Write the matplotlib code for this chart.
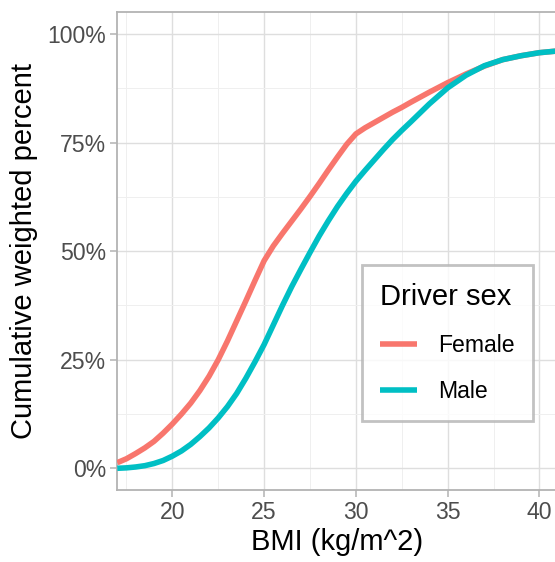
import matplotlib
matplotlib.use("Agg")
import matplotlib.pyplot as plt
from matplotlib.ticker import FuncFormatter, MultipleLocator

plt.rcParams['font.family'] = ['Liberation Sans', 'DejaVu Sans']

bmi = [17, 17.5, 18, 18.5, 19, 19.5, 20, 20.5, 21, 21.5, 22, 22.5, 23, 23.5, 24, 24.5,
       25, 25.5, 26, 26.5, 27, 27.5, 28, 28.5, 29, 29.5, 30, 30.5, 31, 31.5, 32, 32.5,
       33, 34, 35, 36, 37, 38, 39, 40, 41]
female = [0.013, 0.022, 0.034, 0.047, 0.062, 0.081, 0.102, 0.125, 0.15, 0.179, 0.212, 0.25,
          0.293, 0.339, 0.385, 0.432, 0.478, 0.512, 0.541, 0.569, 0.597, 0.626, 0.656, 0.687,
          0.717, 0.746, 0.77, 0.784, 0.796, 0.808, 0.82, 0.831, 0.843, 0.866, 0.888,
          0.908, 0.926, 0.941, 0.95, 0.957, 0.961]
male = [0.0, 0.001, 0.003, 0.006, 0.011, 0.018, 0.028, 0.04, 0.055, 0.073, 0.093, 0.116,
        0.142, 0.172, 0.207, 0.245, 0.285, 0.33, 0.375, 0.418, 0.458, 0.497, 0.535, 0.57,
        0.603, 0.633, 0.661, 0.686, 0.71, 0.734, 0.757, 0.778, 0.798, 0.839, 0.876, 0.905,
        0.927, 0.941, 0.95, 0.957, 0.961]
series_names = ["Female", "Male"]
series_colors = ["#F8766D", "#00BFC4"]
x_ticks = [20, 25, 30, 35, 40]
y_ticks = [0, 0.25, 0.5, 0.75, 1.0]

fig = plt.figure(figsize=(5.55, 5.62), dpi=100)
ax_left = 117.3 / 555
ax_w = 1.005 - ax_left
ax = fig.add_axes([ax_left, (562 - 490) / 562, ax_w, (490 - 12.3) / 562])

for vals, name, col in zip([female, male], series_names, series_colors):
    ax.plot(bmi, vals, color=col, lw=4.0, label=name, solid_capstyle='butt',
            solid_joinstyle='round', zorder=3)

ax.set_xlim(17, 41)
ax.set_ylim(-0.05, 1.05)
ax.set_xticks(x_ticks)
ax.set_yticks(y_ticks)
ax.xaxis.set_minor_locator(MultipleLocator(2.5))
ax.yaxis.set_minor_locator(MultipleLocator(0.125))
ax.yaxis.set_major_formatter(FuncFormatter(lambda v, p: f"{int(round(v * 100))}%"))

ax.grid(which='major', color='#DEDEDE', lw=1.0, zorder=0)
ax.grid(which='minor', color='#EFEFEF', lw=0.7, zorder=0)
ax.set_axisbelow(True)

for s in ax.spines.values():
    s.set_color('#B3B3B3')
    s.set_linewidth(1.3)

ax.tick_params(which='major', length=5, width=1.1, color='#B3B3B3',
               labelcolor='#4D4D4D', labelsize=16.6, pad=3)
ax.tick_params(which='minor', length=0)

ax.set_xlabel("BMI (kg/m^2)", fontsize=21, color='black', labelpad=3)
ax.set_ylabel("Cumulative weighted percent", fontsize=21, color='black', labelpad=7)

leg = ax.legend(title="Driver sex", loc='upper left',
                bbox_to_anchor=((362.3 - 117.3) / (555 * ax_w), (490 - 265) / (490 - 12.3)),
                frameon=True, fancybox=False, fontsize=16.6, title_fontsize=21,
                handlelength=1.6, handletextpad=0.9, labelspacing=1.0,
                borderpad=0.78, borderaxespad=0)
leg.get_frame().set_edgecolor('#B3B3B3')
leg.get_frame().set_linewidth(2.0)
leg._legend_box.align = "left"

fig.savefig("out.png", dpi=100, facecolor='white')
